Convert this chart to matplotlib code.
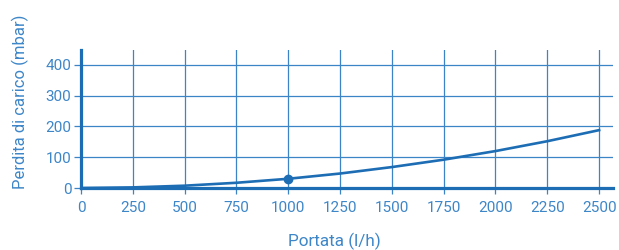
import matplotlib.pyplot as plt

# values
portata = [0, 250, 500, 750, 1000, 1250, 1500, 1750, 2000, 2250, 2500]
perdita = [0, 2, 7.5, 17, 30, 47, 68, 92, 120, 152, 188]
punto_x = [1000]
punto_y = [30]
x_ticks = [0, 250, 500, 750, 1000, 1250, 1500, 1750, 2000, 2250, 2500]
y_ticks = [0, 100, 200, 300, 400]

line_blue = '#1d6db5'
grid_blue = '#3b84c6'
text_blue = '#3d86c8'

plt.rcParams['font.family'] = ['Roboto', 'DejaVu Sans']

fig = plt.figure(figsize=(6.19, 2.5), dpi=100)
ax = fig.add_axes([81 / 619, 62 / 250, 532 / 619, 138.5 / 250])

ax.plot(portata, perdita, color=line_blue, linewidth=1.9, zorder=3)
ax.plot(punto_x, punto_y, 'o', color=line_blue, markersize=6, zorder=4)

ax.set_xlim(0, 2567)
ax.set_ylim(0, 450)
ax.set_xticks(x_ticks)
ax.set_yticks(y_ticks)
ax.grid(True, color=grid_blue, linewidth=0.9)
ax.set_axisbelow(True)

for side in ['top', 'right']:
    ax.spines[side].set_visible(False)
for side in ['left', 'bottom']:
    ax.spines[side].set_color(line_blue)
    ax.spines[side].set_linewidth(2.3)
    ax.spines[side].set_zorder(5)

ax.tick_params(axis='y', length=5, width=0.9, color=grid_blue,
               labelcolor=text_blue, labelsize=11, pad=2)
ax.tick_params(axis='x', length=4, width=0.9, color=grid_blue,
               labelcolor=text_blue, labelsize=11, pad=5)

fig.text(334 / 619, 1 - 241 / 250, 'Portata (l/h)', color=text_blue,
         fontsize=12.3, ha='center', va='center')
fig.text(20.5 / 619, 1 - 102 / 250, 'Perdita di carico (mbar)', color=text_blue,
         fontsize=12, ha='center', va='center', rotation=90)

fig.savefig('out.png', dpi=100)
